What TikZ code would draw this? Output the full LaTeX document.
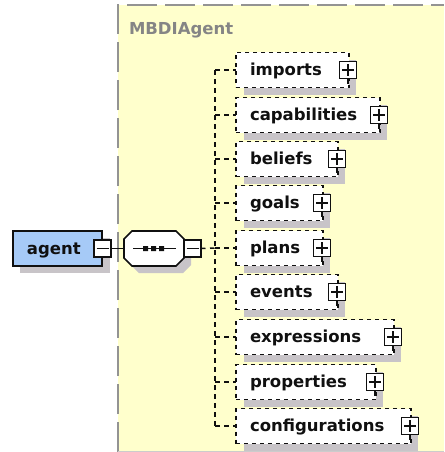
\documentclass[tikz,border=0pt]{standalone}
\usepackage{fontspec}
\setmainfont{DejaVu Sans}
\definecolor{schemabg}{HTML}{FFFFCC}
\definecolor{shadowgray}{HTML}{C8C4C8}
\definecolor{agentblue}{HTML}{A6CAF7}
\definecolor{inkblack}{HTML}{101010}
\definecolor{labelgray}{HTML}{858585}
\tikzset{
  every node/.style={inner sep=0pt,outer sep=0pt},
  txt/.style={font=\fontsize{16.5}{18}\selectfont\bfseries,text=inkblack,anchor=base west},
  shadowfill/.style={fill=shadowgray,draw=none},
  solidbox/.style={draw=inkblack,line width=1.6pt},
  dashbox/.style={draw=inkblack,line width=1.6pt,dash pattern=on 4pt off 4pt,fill=white},
  conn/.style={draw=inkblack,line width=1.5pt},
  dashconn/.style={draw=inkblack,line width=1.5pt,dash pattern=on 4.5pt off 4.5pt},
  toggle/.style={draw=inkblack,line width=1.6pt,fill=white,minimum width=17pt,minimum height=17pt,rectangle},
  borderline/.style={draw=gray!85,line width=1.6pt,dash pattern=on 30pt off 8pt}
}
\newcommand{\childbox}[3]{%
  \fill[shadowfill] (244,#2-10) rectangle (#3+7,#2+25);
  \node[dashbox,minimum width=#3pt-236pt,minimum height=35pt,anchor=center,rectangle] (#1) at ({(236+#3)/2},#2) {};
  \node[txt] (#1t) at (250,#2+5.5) {#1};
  \node[toggle] (#1p) at (#3-1,#2) {};
  \draw[conn,line width=1.3pt] (#1p.center) ++(-6,0) -- ++(12,0) (#1p.center) ++(0,-6) -- ++(0,12);
  \draw[conn] (#1p.south) -- ++(0,5);
  \coordinate (#1j) at (215,#2);
  \draw[dashconn] (#1j) -- (#1.west);
}
\begin{document}
\begin{tikzpicture}[x=1pt,y=-1pt]
\useasboundingbox (0,0) rectangle (444,452);
\fill[white] (0,0) rectangle (444,452);
\fill[schemabg] (118,5) rectangle (444,452);
\draw[borderline] (118,452) -- (118,5) -- (444,5);
\draw[gray!40,line width=1pt] (118,451) -- (444,451);
\node[font=\fontsize{16.5}{18}\selectfont\bfseries,text=labelgray,anchor=base west] (title) at (129,35) {MBDIAgent};
\fill[shadowfill] (20,238) rectangle (110,273);
\node[solidbox,fill=agentblue,minimum width=89pt,minimum height=35pt,rectangle] (agent) at (57.5,248.5) {};
\node[txt] (agentt) at (27,254) {agent};
\node[toggle] (agentm) at (102.5,248.5) {};
\draw[conn,line width=1.3pt] (agentm.center) ++(-6,0) -- ++(12,0);
\fill[shadowfill] (139,238) -- (183,238) -- (191,246) -- (191,265) -- (183,273) -- (139,273) -- (131,265) -- (131,246) -- cycle;
\node[minimum width=60pt,minimum height=35pt,rectangle] (seq) at (154,248.5) {};
\draw[solidbox,fill=white] (132,231) -- (176,231) -- (184,239) -- (184,258) -- (176,266) -- (132,266) -- (124,258) -- (124,239) -- cycle;
\draw[conn] (133,248.5) -- (176,248.5);
\fill[inkblack] (143,246) rectangle (148,251) (151,246) rectangle (156,251) (159,246) rectangle (164,251);
\node[toggle] (seqm) at (192.5,248.5) {};
\draw[conn,line width=1.3pt] (seqm.center) ++(-6,0) -- ++(12,0);
\draw[conn] (agentm.east) -- (seq.west);
\childbox{imports}{70}{349}
\childbox{capabilities}{115}{380}
\childbox{beliefs}{159}{338}
\childbox{goals}{203}{323}
\childbox{plans}{248}{323}
\childbox{events}{292}{338}
\childbox{expressions}{337}{394}
\childbox{properties}{382}{376}
\childbox{configurations}{426}{411}
\draw[dashconn] (importsj) -- (configurationsj);
\draw[dashconn] (seqm.east) -- (plansj);
\end{tikzpicture}
\end{document}
